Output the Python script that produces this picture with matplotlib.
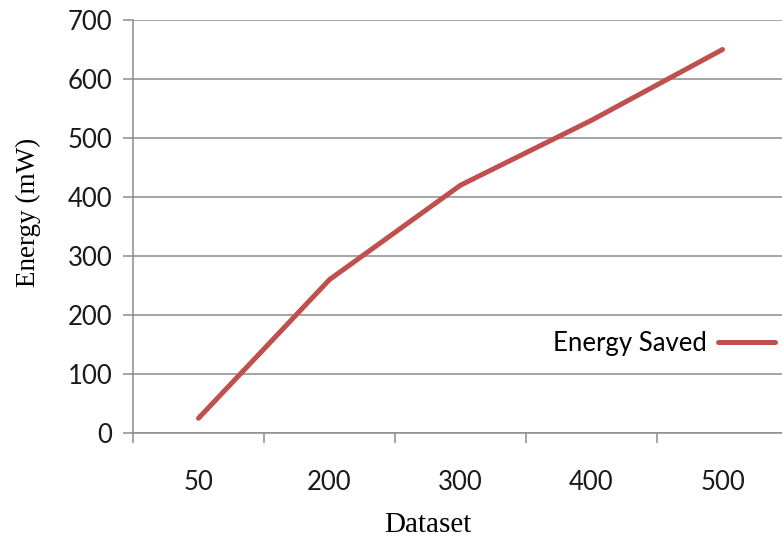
import matplotlib.pyplot as plt

datasets = ["50", "200", "300", "400", "500"]
energy_saved = [25, 260, 420, 530, 650]

fig = plt.figure(figsize=(7.82, 5.43), dpi=100)
# plot area runs off the right edge of the figure
ax = fig.add_axes([133 / 782, 1 - 433 / 543, 655 / 782, 413 / 543])

x = list(range(len(datasets)))
ax.plot(x, energy_saved, color="#C0504D", linewidth=3.6,
        solid_capstyle="round", label="Energy Saved", zorder=3)

ax.set_xlim(-0.5, len(datasets) - 0.5)
ax.set_ylim(0, 700)
ax.set_yticks(range(0, 701, 100))
ax.yaxis.grid(True, color="#8c8c8c", linewidth=1.1)
ax.set_axisbelow(True)

ax.set_xticks([i - 0.5 for i in range(len(datasets) + 1)])
ax.set_xticklabels([])
ax.set_xticks(x, minor=True)
ax.set_xticklabels(datasets, minor=True)
ax.tick_params(axis="x", which="major", length=7, width=1.1, color="#8c8c8c")
ax.tick_params(axis="x", which="minor", length=0, pad=27)
ax.tick_params(axis="y", length=7, width=1.1, color="#8c8c8c", pad=8)

for lab in ax.get_xticklabels(minor=True) + ax.get_yticklabels():
    lab.set_fontfamily("Lato")
    lab.set_fontsize(18.5)
    lab.set_color("#1a1a1a")

for side in ["top", "right"]:
    ax.spines[side].set_visible(False)
for side in ["left", "bottom"]:
    ax.spines[side].set_color("#8c8c8c")
    ax.spines[side].set_linewidth(1.1)

ax.set_xlabel("Dataset", family="Liberation Serif", fontsize=21)
ax.xaxis.set_label_coords((428 - 133) / 655, (433 - 512) / 413)
ax.set_ylabel("Energy (mW)", family="Liberation Serif", fontsize=19.5)
ax.yaxis.set_label_coords((41 - 133) / 655, (433 - 212) / 413)

leg = ax.legend(loc="center", bbox_to_anchor=((664 - 133) / 655, (433 - 343) / 413),
                markerfirst=False, frameon=False, handlelength=2.2,
                handletextpad=0.45, borderaxespad=0,
                prop={"family": "Lato", "size": 18.5})

fig.savefig("out.png", dpi=100)
